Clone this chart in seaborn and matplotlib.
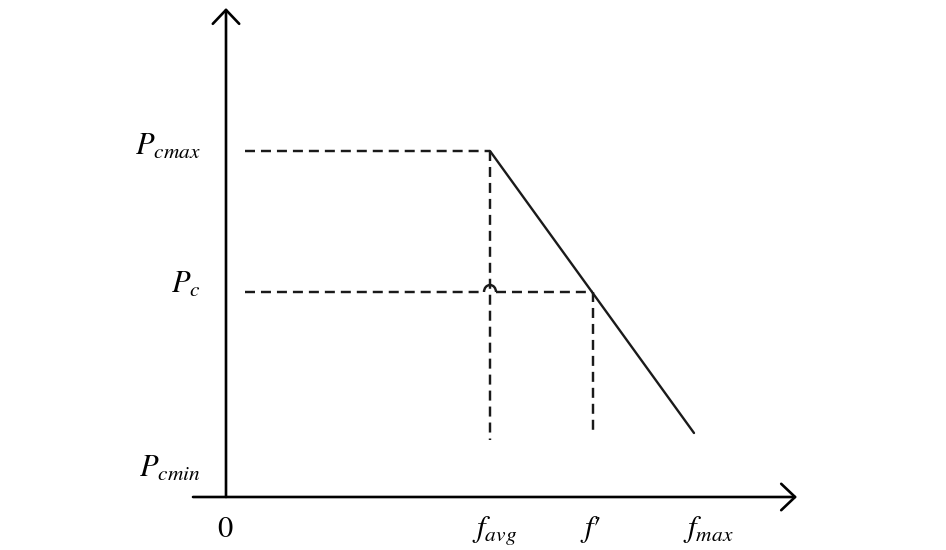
import matplotlib
matplotlib.use("Agg")
import matplotlib.pyplot as plt
from matplotlib.patches import FancyArrowPatch, Arc
import seaborn as sns
import pandas as pd

# значения (1 единица = 10 px)
f_avg = 26.4
f_prime = 36.7
f_end = 46.8
P_cmax = 34.6
P_c = 20.5
P_end = 6.4
guide_start = 1.9
guide_end = [5.7, 6.2]  # нижние концы вертикальных пунктиров

x_labels = ['$f_{avg}$', r'$f\prime$', '$f_{max}$']
x_label_pos = [24.6, 35.4, 45.7]
y_labels = ['$P_{cmax}$', '$P_c$', '$P_{cmin}$']
y_label_pos = [34.2, 20.4, 2.0]

sns.set_theme(style="white")
plt.rcParams['mathtext.fontset'] = 'stix'
plt.rcParams['font.family'] = ['Liberation Serif', 'DejaVu Serif']
plt.rcParams['lines.scale_dashes'] = False

fig = plt.figure(figsize=(9.46, 5.5), dpi=100)
ax = fig.add_axes([0, 0, 1, 1])
ax.set_xlim(-22.6, 72.0)
ax.set_ylim(-5.3, 49.7)
ax.axis('off')

dash = (0, (7.2, 4.3))
col = '#1a1a1a'
lw_d = 1.75

# основная характеристика
df = pd.DataFrame({'f': [f_avg, f_end], 'P': [P_cmax, P_end]})
sns.lineplot(data=df, x='f', y='P', ax=ax, color=col, lw=1.7, sort=False)

# пунктирные направляющие
ax.plot([guide_start, f_avg], [P_cmax, P_cmax], ls=dash, color=col, lw=lw_d)
ax.plot([f_avg, f_avg], [P_cmax, guide_end[0]], ls=dash, color=col, lw=lw_d)
ax.plot([guide_start, f_avg - 0.6], [P_c, P_c], ls=dash, color=col, lw=lw_d)
ax.plot([f_avg + 0.6, f_prime], [P_c, P_c], ls=dash, color=col, lw=lw_d)
ax.plot([f_prime, f_prime], [P_c, guide_end[1]], ls=dash, color=col, lw=lw_d)
ax.add_patch(Arc((f_avg, P_c), 1.2, 1.4, theta1=0, theta2=180, color=col, lw=lw_d))

# оси со стрелками
for start, end in [((-3.3, 0), (57.1, 0)), ((0, 0), (0, 48.9))]:
    ax.add_patch(FancyArrowPatch(start, end, arrowstyle='->,head_length=1.0,head_width=0.95',
                                 mutation_scale=10, color='black', lw=1.9,
                                 shrinkA=0, shrinkB=0))

for lab, x in zip(x_labels, x_label_pos):
    ax.text(x, -4.0, lab, fontsize=22, ha='left', va='baseline', color='black')
ax.text(-0.1, -4.0, '0', fontsize=22, ha='center', va='baseline', color='black',
        fontfamily='STIXGeneral')
for lab, y in zip(y_labels, y_label_pos):
    ax.text(-2.5, y, lab, fontsize=22, ha='right', va='baseline', color='black')

plt.savefig('out.png', dpi=100)
